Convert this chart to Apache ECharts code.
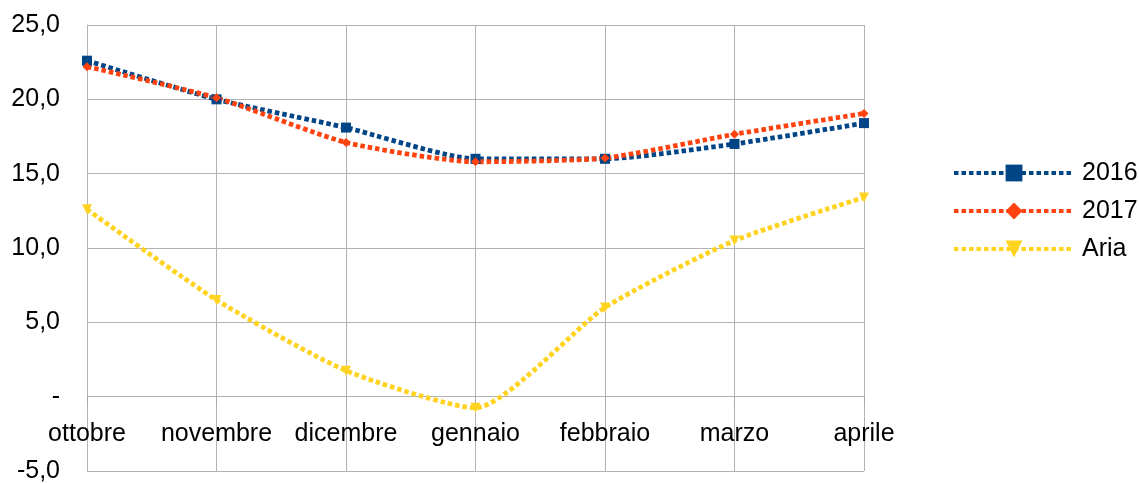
<!DOCTYPE html>
<html>
<head>
<meta charset="utf-8">
<script src="https://cdn.jsdelivr.net/npm/echarts@6/dist/echarts.min.js"></script>
<style>
  html, body { margin: 0; padding: 0; background: #ffffff; }
  #chart { width: 1139px; height: 484px; }
</style>
</head>
<body>
<div id="chart"></div>
<script>
// Monthly temperatures (°C), October to April
const months = ['ottobre', 'novembre', 'dicembre', 'gennaio', 'febbraio', 'marzo', 'aprile'];
const temp2016 = [22.6, 20.0, 18.1, 16.0, 16.0, 17.0, 18.4];
const temp2017 = [22.2, 20.1, 17.1, 15.8, 16.05, 17.65, 19.05];
const tempAria = [12.6, 6.5, 1.75, -0.75, 6.0, 10.5, 13.4];

const yMin = -5, yMax = 25, yStep = 5;

const FONT = 'Liberation Sans, Arial, sans-serif';
const GRID_COLOR = '#b3b3b3';
const dash = [4.5, 3];

// plot box
const W = 1139, H = 484;
const gridTop = 25, gridBottom = 13;
const plotH = H - gridTop - gridBottom;
// lift the category axis up to the zero line
const zeroOffset = -plotH * (0 - yMin) / (yMax - yMin);

function fmtY(v) {
  if (v === 0) return '-';
  return v.toFixed(1).replace('.', ',');
}

function lineSeries(name, data, color, symbol, size, rotate) {
  return {
    name: name,
    type: 'line',
    data: data,
    smooth: 0.2,
    symbol: symbol,
    symbolSize: size,
    symbolRotate: rotate || 0,
    showSymbol: true,
    showAllSymbol: true,
    lineStyle: { color: color, width: 4.8, type: dash, cap: 'butt' },
    itemStyle: { color: color, borderWidth: 0 },
    emphasis: { disabled: true }
  };
}

const chart = echarts.init(document.getElementById('chart'), null, { renderer: 'canvas' });
chart.setOption({
  animation: false,
  backgroundColor: '#ffffff',
  grid: { left: 87, right: 275, top: gridTop, bottom: gridBottom, containLabel: false, outerBoundsMode: 'none' },
  xAxis: {
    type: 'category',
    data: months,
    boundaryGap: false,
    offset: zeroOffset,
    axisLine: { onZero: false, lineStyle: { color: GRID_COLOR, width: 1 } },
    axisTick: { show: true, alignWithLabel: true, length: 9, lineStyle: { color: '#a6a6a6' } },
    axisLabel: { color: '#000', fontFamily: FONT, fontSize: 25, margin: 25, interval: 0 },
    splitLine: { show: true, lineStyle: { color: GRID_COLOR, width: 1 } }
  },
  yAxis: {
    type: 'value',
    min: yMin,
    max: yMax,
    interval: yStep,
    axisLine: { show: true, onZero: false, lineStyle: { color: GRID_COLOR } },
    axisTick: { show: false },
    axisLabel: { color: '#000', fontFamily: FONT, fontSize: 25, margin: 27, formatter: fmtY },
    splitLine: { show: true, lineStyle: { color: GRID_COLOR, width: 1 } }
  },
  legend: {
    orient: 'vertical',
    left: 947,
    top: 154,
    itemWidth: 120,
    itemHeight: 21,
    itemGap: 10,
    lineStyle: { width: 4 },
    textStyle: { color: '#000', fontFamily: FONT, fontSize: 25, lineHeight: 28, padding: [0, 0, 0, 3] },
    data: ['2016', '2017', 'Aria']
  },
  series: [
    lineSeries('2016', temp2016, '#004586', 'rect', 10),
    lineSeries('2017', temp2017, '#ff420e', 'diamond', 9),
    lineSeries('Aria', tempAria, '#ffd320', 'triangle', 10, 180)
  ]
});
</script>
</body>
</html>
